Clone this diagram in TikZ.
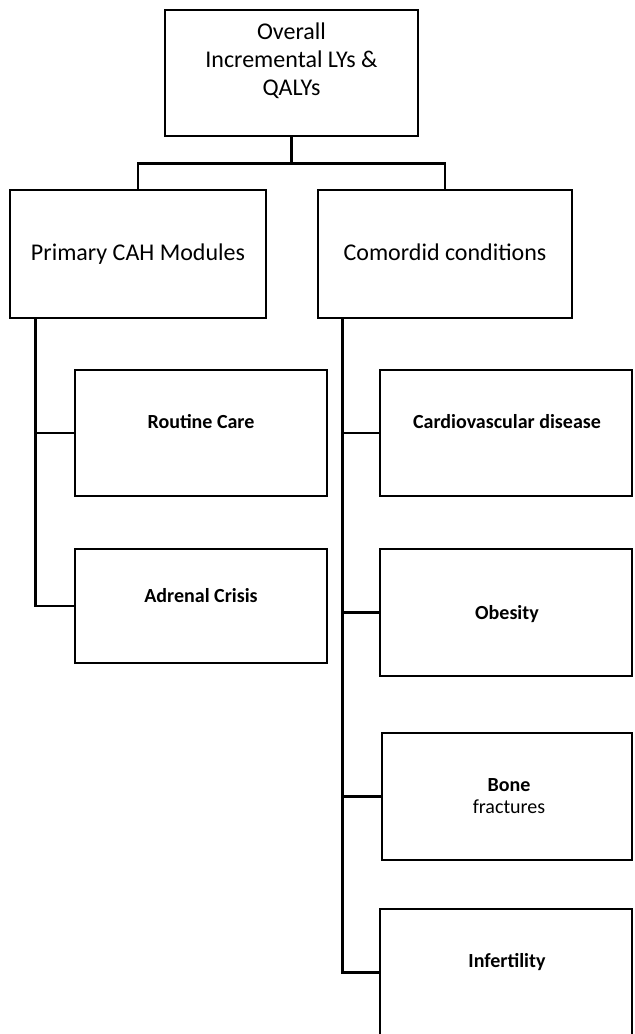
\documentclass[tikz,border=0pt]{standalone}
\usepackage{fontspec}
\setmainfont{Carlito}
\tikzset{
    box/.style={draw, line width=1.3pt, inner sep=0pt, minimum width=126pt, minimum height=63pt},
    txt/.style={anchor=base, align=center, font=\fontsize{12}{14}\selectfont},
    sub/.style={anchor=base, align=center, font=\fontsize{10}{11}\selectfont\bfseries},
    link/.style={line width=1.3pt}
}
\begin{document}
\begin{tikzpicture}[x=0.5pt, y=-0.5pt]
    \path[use as bounding box, clip] (0,0) rectangle (634,1034);

    % Top level
    \node[box, minimum width=126.5pt] (top) at (291.5,73) {};
    \node[txt] (toplbl) at (291.5,95) {Overall\\Incremental LYs \&\\QALYs};

    % Second level
    \node[box, minimum width=128pt, minimum height=64pt] (prim) at (138,254) {};
    \node[txt] (primlbl) at (138,260) {Primary CAH Modules};
    \node[box, minimum width=127pt, minimum height=64pt] (como) at (445,254) {};
    \node[txt] (comolbl) at (445,260) {Comordid conditions};

    % Modules
    \node[box] (rc) at (201,433) {};
    \node[sub] (rclbl) at (201,428) {Routine Care};
    \node[box, minimum height=57pt] (ac) at (201,606) {};
    \node[sub] (aclbl) at (201,602) {Adrenal Crisis};

    % Conditions
    \node[box] (cvd) at (506,433) {};
    \node[sub] (cvdlbl) at (507,428) {Cardiovascular disease};
    \node[box, minimum height=63.5pt] (ob) at (506,612.5) {};
    \node[sub] (oblbl) at (507,619) {Obesity};
    \node[box, minimum width=125pt, minimum height=63.5pt] (bf) at (507,796.5) {};
    \node[sub] (bflbl) at (509,813) {Bone\\\mdseries fractures};
    \node[box, minimum height=63.5pt] (inf) at (506,972.5) {};
    \node[sub] (inflbl) at (507,967) {Infertility};

    % Connectors
    \draw[link] (top.south) -- ++(0,26) coordinate (split) -| (prim.north);
    \draw[link] (split) -| (como.north);

    \coordinate (ltrunk) at ([xshift=13.5pt]prim.south west);
    \coordinate (rtrunk) at ([xshift=13pt]como.south west);
    \draw[link] (ltrunk) |- (ac.west);
    \draw[link] (ltrunk |- rc.west) -- (rc.west);
    \draw[link] (rtrunk) |- (inf.west);
    \foreach \b in {cvd, ob, bf}
        \draw[link] (rtrunk |- \b.west) -- (\b.west);
\end{tikzpicture}
\end{document}
